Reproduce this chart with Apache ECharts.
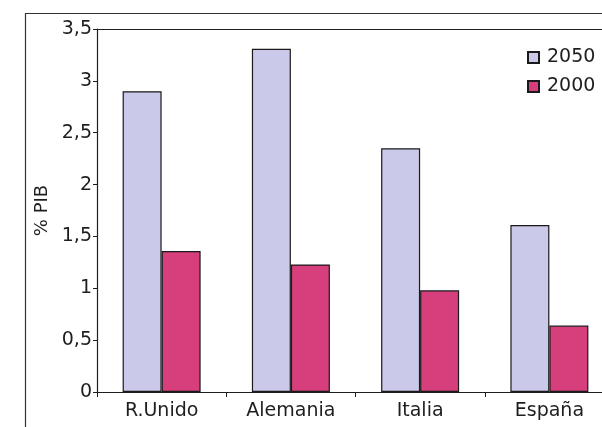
<!DOCTYPE html>
<html>
<head>
<meta charset="utf-8">
<script src="https://cdn.jsdelivr.net/npm/echarts@6/dist/echarts.min.js"></script>
<style>
  html, body { margin: 0; padding: 0; background: #ffffff; }
  #chart { width: 602px; height: 427px; }
</style>
</head>
<body>
<div id="chart"></div>
<script>
// Gasto en pensiones (% PIB), 2050 frente a 2000
const categories = ['R. Unido', 'Alemania', 'Italia', 'España'];
const values2050 = [2.90, 3.31, 2.35, 1.61];
const values2000 = [1.36, 1.23, 0.98, 0.64];
const seriesNames = ['2050', '2000'];

const FONT = '"DejaVu Sans", "Liberation Sans", Arial, sans-serif';
const INK = '#1e1e1e';
const chart = echarts.init(document.getElementById('chart'));

chart.setOption({
  backgroundColor: '#ffffff',
  animation: false,
  textStyle: { fontFamily: FONT },
  // the plot area runs past the right edge of the canvas
  grid: { left: 97, top: 29, width: 517, height: 363, outerBoundsMode: 'none' },
  legend: {
    data: seriesNames,
    orient: 'vertical',
    left: 522,
    top: 43,
    itemWidth: 11,
    itemHeight: 11,
    itemGap: 10,
    icon: 'rect',
    textStyle: { fontSize: 19, color: INK, fontFamily: FONT, padding: [0, 0, 0, 3] }
  },
  xAxis: {
    type: 'category',
    data: categories,
    axisLine: { lineStyle: { color: INK, width: 1.2 } },
    axisTick: { show: true, length: 5, lineStyle: { color: INK } },
    axisLabel: {
      fontSize: 19, color: INK, margin: 10, fontFamily: FONT,
      formatter: v => v === 'R. Unido' ? 'R.Unido' : v
    },
    splitLine: { show: false }
  },
  yAxis: {
    type: 'value',
    min: 0,
    max: 3.5,
    interval: 0.5,
    name: '% PIB',
    nameLocation: 'middle',
    nameGap: 40,
    nameTextStyle: { fontSize: 18, color: INK, fontFamily: FONT },
    axisLine: { show: true, lineStyle: { color: INK, width: 1.2 } },
    axisTick: { show: true, length: 4, lineStyle: { color: INK } },
    axisLabel: {
      fontSize: 19, color: INK, margin: 5, fontFamily: FONT,
      formatter: v => String(v).replace('.', ',')
    },
    splitLine: { show: false }
  },
  graphic: [
    // outer frame (left and top edges) and plot top border
    { type: 'line', shape: { x1: 25.5, y1: 13, x2: 25.5, y2: 427 }, style: { stroke: '#333', lineWidth: 1.2 }, silent: true },
    { type: 'line', shape: { x1: 25, y1: 13.5, x2: 602, y2: 13.5 }, style: { stroke: '#333', lineWidth: 1.2 }, silent: true },
    { type: 'line', shape: { x1: 97, y1: 29.5, x2: 602, y2: 29.5 }, style: { stroke: INK, lineWidth: 1.2 }, silent: true }
  ],
  series: [
    {
      name: seriesNames[0],
      type: 'bar',
      data: values2050,
      barWidth: 39,
      barGap: '0%',
      itemStyle: { color: '#cbc9ea', borderColor: '#1a1a1a', borderWidth: 1.2 }
    },
    {
      name: seriesNames[1],
      type: 'bar',
      data: values2000,
      barWidth: 39,
      barGap: '0%',
      itemStyle: { color: '#d63f7c', borderColor: '#1a1a1a', borderWidth: 1.2 }
    }
  ]
});
</script>
</body>
</html>
